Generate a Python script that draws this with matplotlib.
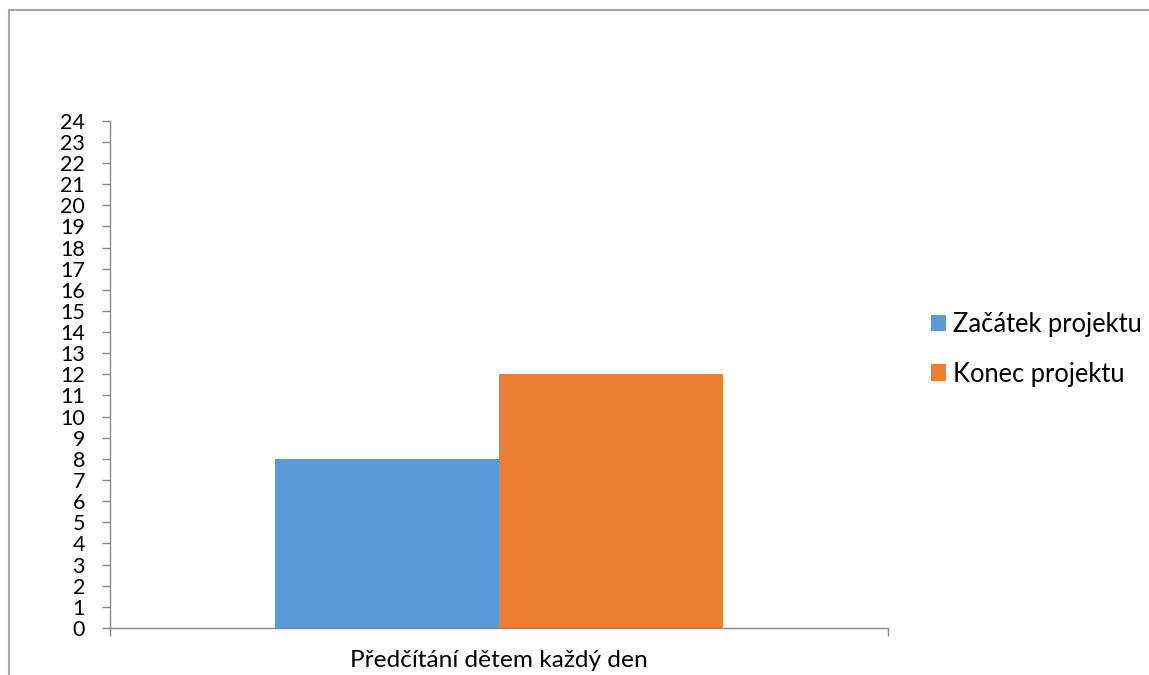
import matplotlib
matplotlib.use("Agg")
import matplotlib.pyplot as plt
from matplotlib.lines import Line2D
from matplotlib.patches import Patch

categories = ["Předčítání dětem každý den"]
series_names = ["Začátek projektu", "Konec projektu"]
series_values = [[8], [12]]
colors = ["#5B9BD5", "#ED7D31"]
y_ticks = list(range(0, 25))

plt.rcParams["font.family"] = ["Lato", "DejaVu Sans"]

W, H = 1149, 675
fig = plt.figure(figsize=(W / 100, H / 100), dpi=100)

# plot area
ax = fig.add_axes([110 / W, (H - 628) / H, (888 - 110) / W, (628 - 120.7) / H])

bar_w = 0.2875
offsets = [-bar_w / 2, bar_w / 2]
for name, vals, col, off in zip(series_names, series_values, colors, offsets):
    xs = [i + off for i in range(len(categories))]
    ax.bar(xs, vals, width=bar_w, color=col, label=name, zorder=2)

ax.set_xlim(-0.5, len(categories) - 0.5)
ax.set_ylim(0, 24)
ax.set_yticks(y_ticks)
ax.set_yticklabels([str(t) for t in y_ticks])

axis_col = "#898989"
for side in ("top", "right"):
    ax.spines[side].set_visible(False)
for side in ("left", "bottom"):
    ax.spines[side].set_color(axis_col)
    ax.spines[side].set_linewidth(1.0)

ax.tick_params(axis="y", direction="out", length=6, width=1, color=axis_col,
               labelsize=15.5, labelcolor="black", pad=12)
# category boundaries carry the tick marks, the label sits at the centre
ax.set_xticks([i - 0.5 for i in range(len(categories) + 1)])
ax.set_xticklabels([""] * (len(categories) + 1))
ax.tick_params(axis="x", which="major", direction="out", length=6, width=1, color=axis_col)
ax.set_xticks(list(range(len(categories))), minor=True)
ax.set_xticklabels(categories, minor=True)
ax.tick_params(axis="x", which="minor", length=0, labelsize=17.6, labelcolor="black", pad=15.5)

handles = [Patch(facecolor=c, edgecolor="none") for c in colors]
fig.legend(handles, series_names, loc="upper left",
           bbox_to_anchor=(931 / W, 1 - 312 / H), frameon=False,
           fontsize=18.4, handlelength=0.59, handleheight=0.59,
           handletextpad=0.27, labelspacing=0.96, borderpad=0, borderaxespad=0)

# chart frame
frame_col = "#a6a6a6"
fig.add_artist(Line2D([8.5 / W, 1.0], [1 - 9.5 / H, 1 - 9.5 / H],
                      transform=fig.transFigure, color=frame_col, lw=1.5))
fig.add_artist(Line2D([8.5 / W, 8.5 / W], [0.0, 1 - 9.5 / H],
                      transform=fig.transFigure, color=frame_col, lw=1.5))

fig.savefig("out.png", dpi=100, facecolor="white")
